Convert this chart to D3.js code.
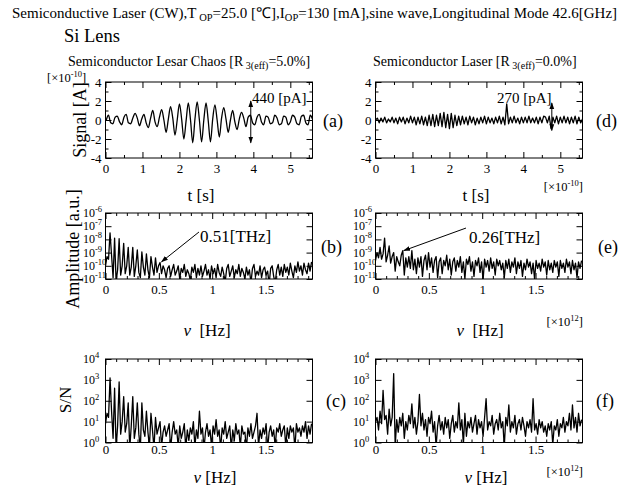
<!DOCTYPE html>
<html>
<head>
<meta charset="utf-8">
<script src="https://cdn.jsdelivr.net/npm/d3@7"></script>
<style>
body { margin: 0; background: #fff; }
text { font-family: "Liberation Serif", "Times New Roman", serif; fill: #000; }
</style>
</head>
<body>
<svg id="chart" width="630" height="488"></svg>
<script>
// time signals, units of 1e-10 s / 1e-10 A
var chaosT0 = 0.02, chaosDt = 0.06;
var signalChaos = [0.0, 0.5, -0.3, -0.4, 0.3, 0.4, -0.2, -0.5, 0.3, 0.6, -0.3, -0.4, 0.2, 0.7, 0.2, -0.6,
    0.1, 0.6, -0.3, -0.8, 0.2, 1.0, -0.2, -0.7, 0.3, 1.1, 0.0, -1.3, 0.1, 1.4, 0.2, -1.6,
    0.0, 1.7, 0.1, -2.0, -0.1, 1.8, 0.0, -2.4, 0.1, 1.9, 0.0, -2.3, 0.0, 1.8, -0.1, -2.3,
    0.1, 1.6, 0.0, -1.8, 0.2, 1.3, 0.1, -1.3, 0.0, 1.0, -0.2, -1.0, 0.1, 0.8, 0.2, -0.7,
    0.3, 0.5, -0.3, -0.5, 0.3, 0.6, -0.2, -0.5, 0.4, 0.3, -0.4, -0.3, 0.5, 0.2, -0.5, -0.4,
    0.4, 0.3, -0.5, -0.2, 0.5, 0.3, -0.4, -0.5, 0.4, 0.5, -0.3, -0.5, 0.5, 0.1];

var laserT0 = 0, laserDt = 0.05;
var signalLaser = [0.0, 0.2, -0.3, 0.2, -0.2, 0.3, -0.3, 0.1, -0.2, 0.3, -0.3, 0.2, -0.4, 0.3, -0.2, 0.3,
    -0.4, 0.2, -0.3, 0.4, -0.3, 0.3, -0.5, 0.3, -0.4, 0.4, -0.5, 0.3, -0.6, 0.5, -0.6, 0.6,
    -0.7, 0.5, -0.6, 0.7, -0.7, 0.8, -0.8, 0.6, -0.9, 0.7, -0.8, 0.5, -0.6, 0.4, -0.5, 0.4,
    -0.4, 0.3, -0.5, 0.4, -0.3, 0.3, -0.5, 0.2, -0.4, 0.3, -0.3, 0.4, -0.4, 0.3, -0.3, 0.2,
    -0.4, 0.3, -0.3, 0.4, -0.4, 0.3, -0.5, 1.7, -0.4, 0.3, -0.3, 0.4, -0.3, 0.2, -0.4, 0.3,
    -0.3, 0.3, -0.3, 0.4, -0.3, 0.2, -0.3, 0.3, -0.4, 0.3, -0.3, 0.4, 0.3, -0.3, 0.4, -0.9,
    0.3, -0.3, 0.4, -0.4, 0.3, -0.3, 0.4, -0.3, 0.3, -0.4, 0.3, -0.3, 0.4, -0.4, 0.3, -0.3, 0.1];

// spectra, frequency step in units of 1e12 Hz, values as log10
var df = 0.0142;
var ampChaosLog = [-10.0, -9.3, -9.5, -7.5, -9.2, -10.9, -7.9, -11.2, -10.3, -7.95, -10.7, -10.0, -8.3, -10.6, -10.0, -8.6,
    -10.7, -10.1, -8.6, -10.8, -10.0, -8.8, -10.5, -10.9, -8.95, -10.1, -10.7, -9.1, -10.3, -10.9, -9.3, -10.1,
    -10.7, -9.4, -10.5, -10.0, -9.75,
    -10.6, -10.0, -10.3, -10.9, -10.2, -10.0, -10.8, -10.3, -9.9, -10.7,
    -10.4, -10.0, -11.0, -10.2, -10.5, -9.9, -10.8, -10.3, -10.6, -11.1,
    -10.1, -10.5, -9.9, -10.9, -10.2, -10.7, -10.0, -10.8, -10.4, -9.9,
    -10.7, -10.3, -11.0, -10.0, -10.6, -10.2, -10.9, -9.9, -10.5, -10.8,
    -10.1, -10.6, -11.2, -10.2, -9.9, -10.8, -10.4, -10.0, -10.9, -10.3,
    -10.6, -9.9, -10.8, -10.2, -10.5, -11.0, -10.1, -10.7, -10.3, -11.3,
    -10.2, -9.9, -10.8, -10.4, -10.7, -10.0, -10.9, -10.3, -10.1, -10.7,
    -10.4, -11.4, -10.2, -10.0, -10.8, -11.3, -10.3, -9.9, -10.7, -10.1,
    -10.8, -9.9, -10.5, -10.1, -10.7, -9.8, -10.4, -10.9, -10.0, -10.5,
    -9.7, -10.4, -10.0, -10.7, -9.8, -10.3, -10.6, -9.8, -10.4, -9.7];

var ampLaserLog = [-9.6, -9.0, -9.4, -8.6, -9.5, -9.1, -7.9, -9.7, -9.2, -8.5, -9.8, -9.3, -9.0, -10.4, -9.3, -9.7,
    -10.0, -9.2, -8.85, -10.7, -9.4, -10.1, -9.3, -10.2, -8.85, -10.3, -9.5, -10.6, -9.4, -10.1, -9.3, -10.8,
    -9.6, -9.2, -10.3, -9.0, -10.1,
    -9.4, -10.5, -9.6, -9.3, -10.9, -9.7, -9.4, -10.6, -9.6, -10.0,
    -9.2, -10.3, -9.5, -10.7, -9.7, -9.4, -10.4, -9.6, -10.1, -9.3,
    -10.5, -9.7, -11.0, -9.5, -9.9, -9.3, -10.4, -9.7, -10.8, -9.6,
    -10.0, -9.4, -10.5, -9.7, -11.1, -9.5, -10.1, -9.6, -10.4, -9.4,
    -10.2, -9.7, -10.7, -9.5, -10.0, -9.6, -10.3, -9.8, -10.9, -9.6,
    -10.2, -9.5, -10.5, -9.7, -10.1, -9.4, -10.6, -9.7, -10.2, -9.6,
    -10.8, -9.8, -10.3, -9.5, -10.1, -9.7, -10.6, -9.8, -11.0, -9.6,
    -10.2, -9.8, -10.4, -9.5, -10.1, -9.7, -10.7, -9.6, -10.3, -9.8,
    -10.5, -9.6, -10.1, -9.7, -10.8, -9.6, -10.2, -9.8, -10.5, -9.5,
    -10.1, -9.7, -10.6, -9.6, -10.3, -9.8, -10.9, -9.7, -10.2, -9.6];

var snChaosLog = [0.9, 1.4, 1.2, 3.1, 1.5, 0.2, 2.6, -0.3, 0.8, 2.9, 0.4, 1.0, 2.2, 0.5, 0.9, 1.9,
    -0.3, 0.8, 2.2, 0.2, 0.7, 1.9, 0.4, -0.3, 1.9, 0.6, 0.3, 1.5, 0.5, -0.2, 1.4, 0.6,
    -0.3, 1.2, 0.4, 0.7, 1.0, -0.2, 0.5, 0.8, 0.3, 0.6, 0.9, -0.3, 0.5, 1.0, 0.4, 0.6,
    -0.2, 0.8, 0.2, 0.5, 0.9, -0.3, 0.6, 0.1, 0.7, 0.4, 1.0, -0.2, 0.6, 0.2, 1.5, 0.4,
    0.7, -0.3, 0.5, 0.9, 0.3, 0.6, -0.2, 0.8, 0.4, 1.1, 0.3, 0.6, -0.3, 0.7, 0.4, 1.0,
    0.2, 0.5, 0.8, -0.3, 0.6, 0.1, 0.9, 0.4, 0.6, -0.2, 0.8, 0.4, 0.5, -0.3, 0.7, 0.3,
    0.9, 0.2, 0.5, 0.8, 1.4, -0.2, 0.6, 0.2, 0.7, 0.4, 0.9, -0.3, 0.5, 0.8, 0.3, 0.6,
    -0.2, 0.7, 0.5, 0.9, 0.3, 0.6, 0.8, -0.2, 0.7, 0.2, 0.8, 0.5, 0.7, -0.3, 0.9, 0.5,
    0.7, 0.3, 0.8, 0.5, 1.0, 0.2, 0.8, 0.4, 0.9];

var snLaserLog = [1.0, 1.2, 0.6, 1.5, 0.9, 2.5, 1.1, 1.3, 0.4, 1.6, 0.8, 1.2, 3.3, -0.2, 1.1, 0.5,
    1.2, 0.8, 1.4, 0.2, 1.0, 0.6, 1.3, 0.9, 1.85, 0.7, 1.2, 0.4, 1.0, 2.3, 0.8, 1.4,
    0.6, 1.1, 0.3, 1.2, 0.9, 1.5, 0.5, 1.0, -0.2, 0.8, 1.3, 0.6, 1.0, 0.4, 1.2, 0.7,
    1.1, 0.2, 0.9, 1.3, 0.5, 1.0, 0.7, 1.9, 0.6, 1.1, -0.1, 1.4, 0.3, 1.0, 0.7, 1.2,
    0.5, 0.9, 1.3, 0.4, 1.1, 0.7, 1.0, 0.3, 1.2, 2.1, 0.6, 1.0, 0.8, 1.3, 0.4, 0.9,
    1.1, 0.6, 1.4, 0.7, 1.0, -0.2, 1.2, 0.8, 1.8, 0.5, 1.0, 0.7, 1.3, 0.4, 0.9, 1.1,
    0.6, 1.2, 0.8, 0.3, 1.0, 0.7, 1.1, 0.5, 2.1, 0.6, 0.9, 0.4, 1.1, 0.7, 1.0, 0.5,
    0.8, 0.3, 0.9, 0.6, 1.0, -0.1, 0.8, 0.6, 1.1, 0.3, 0.9, 0.7, 1.2, 0.5, 1.0, 0.8,
    1.4, 0.6, 1.8, 0.7, 1.2, 0.5, 1.4, 0.8, 1.1];

// ticks
var timeTicks = [0, 1, 2, 3, 4, 5];
var signalTicks = [-4, -2, 0, 2, 4];
var freqTicks = [0, 0.5, 1, 1.5];
var ampDecades = [-11, -10, -9, -8, -7, -6];
var snDecades = [0, 1, 2, 3, 4];

var svg = d3.select("#chart");
svg.append("rect").attr("width", 630).attr("height", 488).attr("fill", "#fff");

var serif = '"Liberation Serif", "Times New Roman", serif';

svg.append("defs").append("marker")
    .attr("id", "head")
    .attr("viewBox", "0 0 10 10")
    .attr("refX", 9).attr("refY", 5)
    .attr("markerWidth", 7).attr("markerHeight", 7)
    .attr("markerUnits", "userSpaceOnUse")
    .attr("orient", "auto-start-reverse")
    .append("path").attr("d", "M0,1.5L10,5L0,8.5z").attr("fill", "#000");

var colX = [[105.5, 312.5], [375.5, 582.5]];
var rowSig = [158, 82], rowAmp = [279, 213], rowSN = [442.5, 359];

var clipId = 0;

function panel(x, y, xMaj, xMin, yMaj, yMin, xPad, logLabels) {
    var l = x.range()[0], r = x.range()[1], b = y.range()[0], t = y.range()[1];

    // y labels
    if (logLabels) {
        var lab = svg.append("g").attr("font-size", 12);
        yMaj.forEach(function (v) {
            var tx = lab.append("text")
                .attr("x", l - 22.5)
                .attr("y", y(v) + 4);
            tx.append("tspan").text("10");
            tx.append("tspan").attr("font-size", 8.5).attr("dy", -5).text(Math.log10(v).toFixed(0));
        });
    } else {
        svg.append("g").attr("transform", "translate(" + l + ",0)")
            .call(d3.axisLeft(y).tickValues(yMaj).tickSize(0).tickPadding(4).tickFormat(String))
            .call(function (g) { g.select(".domain").remove(); })
            .attr("font-family", serif).attr("font-size", 13);
    }

    svg.append("rect").attr("x", l).attr("y", t).attr("width", r - l).attr("height", b - t).attr("fill", "#fff");

    // x labels
    svg.append("g").attr("transform", "translate(0," + b + ")")
        .call(d3.axisBottom(x).tickValues(xMaj).tickSize(0).tickPadding(xPad).tickFormat(String))
        .call(function (g) { g.select(".domain").remove(); })
        .attr("font-family", serif).attr("font-size", 13);

    var id = "clip" + (clipId++);
    svg.append("clipPath").attr("id", id).append("rect")
        .attr("x", l).attr("y", t).attr("width", r - l).attr("height", b - t);
    return { l: l, r: r, b: b, t: t, clip: "url(#" + id + ")", x: x, y: y, xMaj: xMaj, xMin: xMin, yMaj: yMaj, yMin: yMin };
}

function frame(p) {
    function add(axis, tx, ty) {
        svg.append("g").attr("transform", "translate(" + tx + "," + ty + ")")
            .call(axis.tickFormat("").tickSizeOuter(0))
            .call(function (g) { g.select(".domain").remove(); });
    }
    add(d3.axisBottom(p.x).tickValues(p.xMaj).tickSize(-6), 0, p.b);
    add(d3.axisBottom(p.x).tickValues(p.xMin).tickSize(-3), 0, p.b);
    add(d3.axisTop(p.x).tickValues(p.xMaj).tickSize(-6), 0, p.t);
    add(d3.axisTop(p.x).tickValues(p.xMin).tickSize(-3), 0, p.t);
    add(d3.axisLeft(p.y).tickValues(p.yMaj).tickSize(-6), p.l, 0);
    add(d3.axisRight(p.y).tickValues(p.yMaj).tickSize(-6), p.r, 0);
    if (p.yMin) {
        add(d3.axisLeft(p.y).tickValues(p.yMin).tickSize(-3), p.l, 0);
        add(d3.axisRight(p.y).tickValues(p.yMin).tickSize(-3), p.r, 0);
    }
    svg.append("rect").attr("x", p.l).attr("y", p.t).attr("width", p.r - p.l).attr("height", p.b - p.t)
        .attr("fill", "none").attr("stroke", "#000").attr("stroke-width", 1);
}

function trace(p, pts, curve) {
    var line = d3.line()
        .x(function (d) { return p.x(d[0]); })
        .y(function (d) { return p.y(d[1]); });
    if (curve) line.curve(curve);
    svg.append("path").datum(pts)
        .attr("clip-path", p.clip)
        .attr("fill", "none").attr("stroke", "#000").attr("stroke-width", 1.3)
        .attr("stroke-linejoin", "round")
        .attr("d", line);
}

var timeMinor = d3.range(0.5, 5.6, 1);
var sigMinor = [-3, -1, 1, 3];
var freqMinor = d3.range(0.1, 1.95, 0.1).filter(function (v) { return Math.abs(v * 2 - Math.round(v * 2)) > 0.01; });
var ampTicks = ampDecades.map(function (d) { return Math.pow(10, d); });
var snTicks = snDecades.map(function (d) { return Math.pow(10, d); });

function spectrum(arr) {
    return arr.map(function (v, i) { return [i * df, Math.pow(10, v)]; });
}

var panels = [];
colX.forEach(function (cx, c) {
    var xt = d3.scaleLinear().domain([0, 5.6]).range(cx);
    var ys = d3.scaleLinear().domain([-4, 4]).range(rowSig);
    var pSig = panel(xt, ys, timeTicks, timeMinor, signalTicks, sigMinor, 6, false);

    var xf = d3.scaleLinear().domain([0, 1.94]).range(cx);
    var ya = d3.scaleLog().domain([1e-11, 1e-6]).range(rowAmp);
    var pAmp = panel(xf, ya, freqTicks, freqMinor, ampTicks, null, 6, true);

    var yn = d3.scaleLog().domain([1, 1e4]).range(rowSN);
    var pSN = panel(xf, yn, freqTicks, freqMinor, snTicks, null, 2.5, true);

    if (c === 0) {
        trace(pSig, signalChaos.map(function (v, i) { return [chaosT0 + i * chaosDt, v]; }), d3.curveMonotoneX);
        trace(pAmp, spectrum(ampChaosLog));
        trace(pSN, spectrum(snChaosLog));
    } else {
        trace(pSig, signalLaser.map(function (v, i) { return [laserT0 + i * laserDt, v]; }));
        trace(pAmp, spectrum(ampLaserLog));
        trace(pSN, spectrum(snLaserLog));
    }
    frame(pSig); frame(pAmp); frame(pSN);
    panels.push([pSig, pAmp, pSN]);
});

// annotations
function arrow(p, a, b2, both) {
    svg.append("line")
        .attr("x1", p.x(a[0])).attr("y1", p.y(a[1]))
        .attr("x2", p.x(b2[0])).attr("y2", p.y(b2[1]))
        .attr("stroke", "#000").attr("stroke-width", 1)
        .attr("marker-end", "url(#head)")
        .attr("marker-start", both ? "url(#head)" : null);
}
function txt(x, y, s, size, anchor) {
    return svg.append("text").attr("x", x).attr("y", y).attr("font-size", size)
        .attr("text-anchor", anchor || "start").text(s);
}

arrow(panels[0][0], [3.93, -2.4], [3.93, 2.0], true);
txt(252, 103, "440 [pA]", 15);
arrow(panels[1][0], [4.77, -1.1], [4.77, 1.8], true);
txt(497, 103, "270 [pA]", 15);
arrow(panels[0][1], [0.876, Math.pow(10, -7.44)], [0.525, Math.pow(10, -9.7)]);
txt(200, 242, "0.51[THz]", 17);
arrow(panels[1][1], [0.848, Math.pow(10, -7.14)], [0.265, Math.pow(10, -8.85)]);
txt(469, 243, "0.26[THz]", 17);

// titles
var title = svg.append("text").attr("x", 12).attr("y", 18).attr("font-size", 15);
title.append("tspan").text("Semiconductive Laser (CW),T");
title.append("tspan").attr("font-size", 10.5).attr("dy", 3).text(" OP");
title.append("tspan").attr("dy", -3).text("=25.0 [\u2103],I");
title.append("tspan").attr("font-size", 10.5).attr("dy", 3).text("OP");
title.append("tspan").attr("dy", -3).text("=130 [mA],sine wave,Longitudinal Mode 42.6[GHz]");

txt(64, 42, "Si Lens", 18.5);

function subtitle(x, s, v) {
    var t = svg.append("text").attr("x", x).attr("y", 66).attr("font-size", 14);
    t.append("tspan").text(s + " [R");
    t.append("tspan").attr("font-size", 10).attr("dy", 3).text(" 3(eff)");
    t.append("tspan").attr("dy", -3).text("=" + v + "]");
}
subtitle(68, "Semiconductor Lesar Chaos", "5.0%");
subtitle(373, "Semiconductor Laser", "0.0%");

function rotated(cx, cy, s, size) {
    svg.append("text").attr("transform", "translate(" + cx + "," + cy + ") rotate(-90)")
        .attr("text-anchor", "middle").attr("dominant-baseline", "central")
        .attr("font-size", size).text(s);
}
rotated(80, 120, "Signal [A]", 18);
rotated(73, 249, "Amplitude [a.u.]", 18);
rotated(65, 400, "S/N", 17);

function scaleNote(x, y, exp, anchor) {
    var t = svg.append("text").attr("x", x).attr("y", y).attr("font-size", 12.5)
        .attr("text-anchor", anchor || "start");
    t.append("tspan").text("[\u00d710");
    t.append("tspan").attr("font-size", 8.5).attr("dy", -5).text(exp);
    t.append("tspan").attr("dy", 5).text("]");
}
scaleNote(47, 82, "-10");
scaleNote(583, 191, "-10", "end");
scaleNote(583, 326, "12", "end");
scaleNote(583, 476, "12", "end");

txt(201, 201, "t [s]", 17, "middle");
txt(476, 201, "t [s]", 17, "middle");

function nuLabel(cx, y, gap) {
    var t = svg.append("text").attr("x", cx).attr("y", y).attr("font-size", 17)
        .attr("text-anchor", "middle").attr("xml:space", "preserve");
    t.append("tspan").attr("font-style", "italic").text("\u03bd");
    t.append("tspan").text(gap + "[Hz]");
}
nuLabel(207, 336, "\u00a0 ");
nuLabel(480, 336, "\u00a0 ");
nuLabel(215, 483, " ");
nuLabel(486, 483, " ");

var letters = [["(a)", 323, 121], ["(d)", 596, 121], ["(b)", 321, 247], ["(e)", 598, 247], ["(c)", 326, 401], ["(f)", 596, 401]];
letters.forEach(function (d) {
    svg.append("text").attr("x", d[1]).attr("y", d[2]).attr("dominant-baseline", "central")
        .attr("font-size", 18).text(d[0]);
});
</script>
</body>
</html>
